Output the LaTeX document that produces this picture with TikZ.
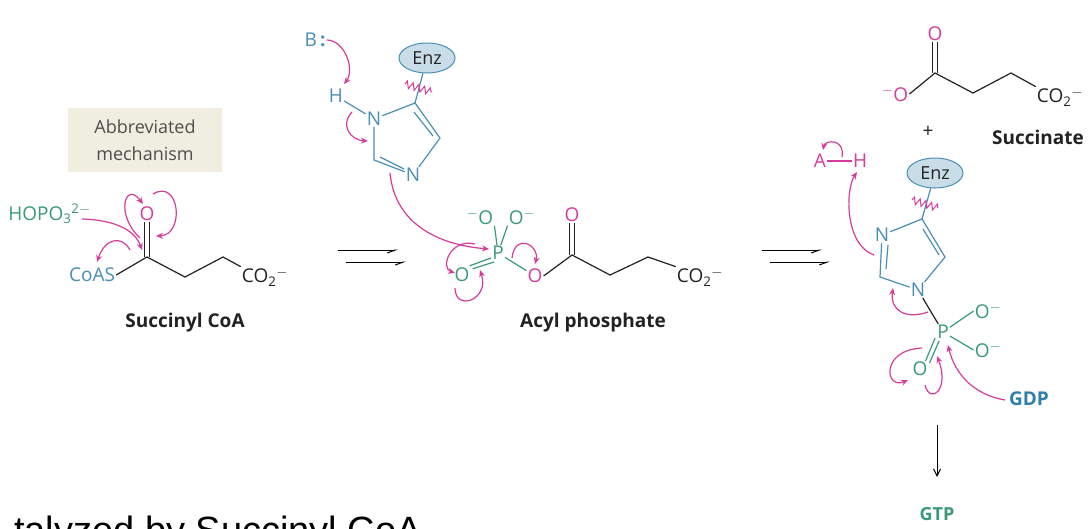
\documentclass[tikz,border=0pt]{standalone}
\usepackage{fontspec}
\setmainfont{Open Sans}
\newfontfamily\arialf{Liberation Sans}
\usetikzlibrary{arrows.meta,decorations.pathmorphing,calc,shapes.geometric}
\definecolor{mag}{HTML}{D63C9B}
\definecolor{blu}{HTML}{4A8FB5}
\definecolor{grn}{HTML}{3A9A78}
\definecolor{gdp}{HTML}{2F7FA8}
\definecolor{beige}{HTML}{EFEEE0}
\definecolor{ink}{HTML}{222222}
\newcommand{\sbs}[1]{\textsubscript{#1}}
\newcommand{\sps}[1]{\textsuperscript{#1}}
\begin{document}
\begin{tikzpicture}[x=1pt,y=-1pt,
  atm/.style={inner sep=1pt,font=\fontsize{19}{19}\selectfont},
  lab/.style={font=\bfseries\fontsize{19}{19}\selectfont,text=ink},
  bond/.style={line width=1.2pt,ink},
  bb/.style={line width=1.2pt,blu},
  gb/.style={line width=1.2pt,grn},
  ea/.style={mag,line width=1.2pt,-{Stealth[length=7pt,width=6pt]}},
  rx/.style={line width=1pt,-{Straight Barb[length=8pt,width=6pt,right]}},
  enz/.style={ellipse,draw=blu,fill=blu!30,line width=1pt,minimum width=56pt,minimum height=30pt,inner sep=0pt,font=\fontsize{18}{18}\selectfont,text=ink},
  wig/.style={mag,line width=1pt,decorate,decoration={zigzag,segment length=6pt,amplitude=3.5pt}}]
\useasboundingbox (0,0) rectangle (1092,528);
\clip (0,0) rectangle (1092,528);
\fill[white] (0,0) rectangle (1092,528);
% Abbreviated mechanism box
\node[fill=beige,minimum width=154pt,minimum height=64pt,align=center,font=\fontsize{18}{27}\selectfont,text=ink!80] (box) at (145,140) {Abbreviated\\mechanism};
% ---------- Succinyl CoA
\node[atm,text=blu] (coas) at (92,275) {CoAS};
\coordinate (c1) at (147,257);
\node[atm,text=mag] (o1) at (147,214) {O};
\coordinate (c2) at (185,277);
\coordinate (c3) at (223,257);
\node[atm,text=ink] (co2a) at (265,277) {CO\sbs{2}\sps{$-$}};
\node[atm,text=grn,anchor=east] (hopo) at (92,214) {HOPO\sbs{3}\sps{2$-$}};
\draw[bond] (coas.east) -- (c1) -- (c2) -- (c3) -- (co2a.north west);
\draw[bond] (c1) ++(-2.5,0) -- ($(o1.south)+(-2.5,0)$);
\draw[bond] (c1) ++(2.5,0) -- ($(o1.south)+(2.5,0)$);
\node[lab] (l1) at (185,323) {Succinyl CoA};
\draw[ea] (82,219) .. controls (115,220) and (135,230) .. (142,250);
\draw[ea] (130,250) .. controls (122,235) and (105,238) .. (97,262);
\draw[ea] (140,238) .. controls (115,215) and (125,180) .. (143,204);
\draw[ea] (153,194) .. controls (180,178) and (185,235) .. (156,236);
% reaction arrows 1
\coordinate (r1a) at (338,250); \coordinate (r1b) at (398,250);
\draw[rx] (r1a) -- (r1b);
\draw[rx] ($(r1a)+(8,12)$) -- ($(r1b)+(8,12)$);
% ---------- Acyl phosphate
\node[atm,text=grn] (P1) at (498,253) {P};
\node[atm,text=grn] (om1) at (480,217) {\sps{$-$}O};
\node[atm,text=grn] (om2) at (522,217) {O\sps{$-$}};
\node[atm,text=grn] (od1) at (462,275) {O};
\node[atm,text=mag] (oe1) at (535,276) {O};
\coordinate (d1) at (572,255);
\node[atm,text=mag] (od2) at (572,215) {O};
\coordinate (d2) at (610,275);
\coordinate (d3) at (648,257);
\node[atm,text=ink] (co2b) at (700,277) {CO\sbs{2}\sps{$-$}};
\draw[gb] (P1) -- (om1.south east);
\draw[gb] (P1) -- (om2.south west);
\draw[gb] (P1) -- (oe1);
\draw[gb] ($(P1.south west)+(0,-3)$) -- ($(od1.north east)+(-1,-1)$);
\draw[gb] ($(P1.south west)+(3,1)$) -- ($(od1.north east)+(2,2)$);
\draw[bond] (oe1.east) -- (d1) -- (d2) -- (d3) -- (co2b.north west);
\draw[bond] (d1) ++(-2.5,0) -- ($(od2.south)+(-2.5,0)$);
\draw[bond] (d1) ++(2.5,0) -- ($(od2.south)+(2.5,0)$);
\node[lab] (l2) at (593,323) {Acyl phosphate};
% imidazole 1
\node[atm,text=blu] (h1) at (336,96) {H};
\node[atm,text=blu] (n1) at (374,119) {N};
\coordinate (ic4) at (415,103);
\coordinate (ic5) at (440,138);
\node[atm,text=blu] (n3) at (413,175) {N};
\coordinate (ic2) at (374,160);
\node[enz] (enz1) at (427,58) {Enz};
\node[atm,text=blu] (B) at (315,40) {B\,\textbf{:}};
\draw[bb] (h1) -- (n1);
\draw[bb] (n1) -- (ic4) -- (ic5) -- (n3) -- (ic2) -- (n1);
\draw[bb] ($(ic4)+(-1,9)$) -- ($(ic5)+(-7,-2)$);
\draw[bb] ($(ic2)+(6,-3)$) -- ($(n3)+(-9,-6)$);
\draw[bb] (ic4) -- (enz1);
\draw[wig] (405,84) -- (432,92);
\draw[ea] (B.east) .. controls (345,40) and (355,70) .. (344,84);
\draw[ea] (352,112) .. controls (340,125) and (350,140) .. (368,141);
\draw[ea] (390,173) .. controls (395,225) and (440,245) .. (489,249);
\draw[ea] (475,244) .. controls (450,238) and (440,268) .. (455,273);
\draw[ea] (455,288) .. controls (455,312) and (490,300) .. (480,270);
\draw[ea] (512,258) .. controls (515,232) and (540,245) .. (535,264);
% reaction arrows 2
\coordinate (r2a) at (762,250); \coordinate (r2b) at (822,250);
\draw[rx] (r2a) -- (r2b);
\draw[rx] ($(r2a)+(8,12)$) -- ($(r2b)+(8,12)$);
% ---------- Succinate
\node[atm,text=mag] (so1) at (895,94) {\sps{$-$}O};
\coordinate (s1) at (935,73);
\node[atm,text=mag] (so2) at (935,34) {O};
\coordinate (s2) at (973,93);
\coordinate (s3) at (1011,73);
\node[atm,text=ink] (co2c) at (1060,97) {CO\sbs{2}\sps{$-$}};
\draw[bond] (so1.east) -- (s1) -- (s2) -- (s3) -- (co2c.north west);
\draw[bond] (s1) ++(-2.5,0) -- ($(so2.south)+(-2.5,0)$);
\draw[bond] (s1) ++(2.5,0) -- ($(so2.south)+(2.5,0)$);
\node[atm,text=ink] (plus) at (928,132) {+};
\node[lab] (l3) at (1038,137) {Succinate};
% ---------- right imidazole
\node[atm,text=mag] (A) at (820,161) {A};
\node[atm,text=mag] (H2) at (860,161) {H};
\draw[mag,line width=1.2pt] (A) -- (H2);
\draw[ea] (842,157) .. controls (845,138) and (825,140) .. (823,150);
\node[atm,text=blu] (n3b) at (882,235) {N};
\coordinate (jc4) at (922,219);
\coordinate (jc5) at (945,257);
\node[atm,text=blu] (n1b) at (918,290) {N};
\coordinate (jc2) at (880,277);
\node[enz] (enz2) at (935,173) {Enz};
\draw[bb] (n3b) -- (jc4) -- (jc5) -- (n1b) -- (jc2) -- (n3b);
\draw[bb] ($(jc4)+(1,10)$) -- ($(jc5)+(-6,-2)$);
\draw[bb] ($(n3b.south)+(6,2)$) -- ($(jc2)+(6,-8)$);
\draw[bb] (jc4) -- (enz2);
\draw[wig] (912,200) -- (938,208);
\node[atm,text=grn] (P2) at (943,332) {P};
\node[atm,text=grn] (om3) at (988,311) {O\sps{$-$}};
\node[atm,text=grn] (om4) at (988,350) {O\sps{$-$}};
\node[atm,text=grn] (od3) at (920,369) {O};
\draw[bond] (n1b) -- (P2);
\draw[gb] (P2) -- (om3.west);
\draw[gb] (P2) -- (om4.west);
\draw[gb] ($(P2.south west)+(-1,-2)$) -- ($(od3.north east)+(-3,0)$);
\draw[gb] ($(P2.south west)+(3,1)$) -- ($(od3.north east)+(1,2)$);
\node[font=\bfseries\fontsize{19}{19}\selectfont,text=gdp] (gdp) at (1029,399) {GDP};
\node[font=\bfseries\fontsize{18}{18}\selectfont,text=grn] (gtp) at (937,514) {GTP};
\coordinate (ga) at (937,425); \coordinate (gb2) at (937,477);
\draw[line width=1pt,-{Straight Barb[length=7pt,width=7pt]}] (ga) -- (gb2);
\draw[ea] (874,255) .. controls (845,245) and (845,190) .. (857,172);
\draw[ea] (928,312) .. controls (905,320) and (890,310) .. (893,288);
\draw[ea] (922,348) .. controls (880,350) and (885,390) .. (908,380);
\draw[ea] (925,385) .. controls (930,405) and (950,390) .. (937,356);
\draw[ea] (1005,400) .. controls (975,395) and (955,375) .. (948,345);
% bottom cut text
\node[anchor=base west,font=\arialf\fontsize{38}{38}\selectfont,text=black,inner sep=0] (bt) at (14,543) {talyzed by Succinyl CoA};
\end{tikzpicture}
\end{document}
